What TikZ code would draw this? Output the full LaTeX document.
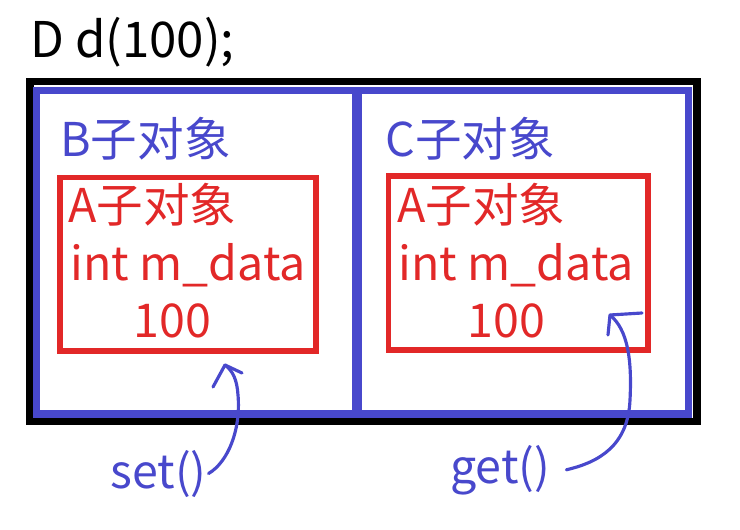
\documentclass[tikz,border=0pt]{standalone}
\usepackage{fontspec}
\setmainfont{Noto Sans CJK SC}
\usepackage{xcolor}
\definecolor{objblue}{RGB}{72,72,204}
\definecolor{objred}{RGB}{226,40,40}

\begin{document}
\begin{tikzpicture}[x=0.02cm, y=-0.02cm,
    txt/.style={anchor=base west, inner sep=0pt},
    big/.style={txt, font=\fontsize{28}{32}\selectfont},
    sub/.style={txt, text=objblue, font=\fontsize{26.5}{32}\selectfont},
    mem/.style={txt, text=objred, font=\fontsize{26.5}{32}\selectfont},
    hand/.style={objblue, line width=1.8pt, line cap=round, line join=round}]
  \useasboundingbox (0,0) rectangle (740,530);

  % Declaration
  \node[big] (decl) at (30,58) {D d(100);};

  % D object (outer frame)
  \draw[line width=4pt, black] (30,81.5) rectangle (697,421.5);
  % B and C sub-objects
  \draw[line width=4.5pt, objblue] (36.5,90.5) rectangle (357,414);
  \draw[line width=4.5pt, objblue] (357,90.5) rectangle (688.5,414);
  \draw[line width=5.5pt, objblue] (357,90.5) -- (357,414);
  \node[sub] (subB) at (60,157) {B子对象};
  \node[sub] (subC) at (385,157) {C子对象};

  % A sub-objects
  \draw[line width=3pt, objred] (60,177.5) rectangle (316,351);
  \draw[line width=3pt, objred] (388.5,176) rectangle (648,350);
  \node[mem] (aB) at (68,223) {A子对象};
  \node[mem] (intB) at (70,280) {int m\_data};
  \node[mem] (valB) at (133,337) {100};
  \node[mem] (aC) at (397,223) {A子对象};
  \node[mem] (intC) at (398,280) {int m\_data};
  \node[mem] (valC) at (467,337) {100};

  % set() / get()
  \node[sub] (set) at (110,488) {set()};
  \node[sub] (get) at (450,483) {get()};
  \coordinate (tipS) at (225,365);
  \coordinate (tipG) at (610,315);

  \draw[hand] ([xshift=1pt]set.east) .. controls (228,462) and (241,430) .. (238,395)
     .. controls (237,380) and (233,371) .. (tipS);
  \draw[hand] (tipS) ++(-12,22) -- (tipS) -- ++(17,8);
  \draw[hand] ([xshift=9pt]get.east) .. controls (600,462) and (628,445) .. (630,400)
     .. controls (632,360) and (628,330) .. (tipG);
  \draw[hand] (tipG) ++(-2,20) -- (tipG) -- ++(32,-2);
\end{tikzpicture}
\end{document}
